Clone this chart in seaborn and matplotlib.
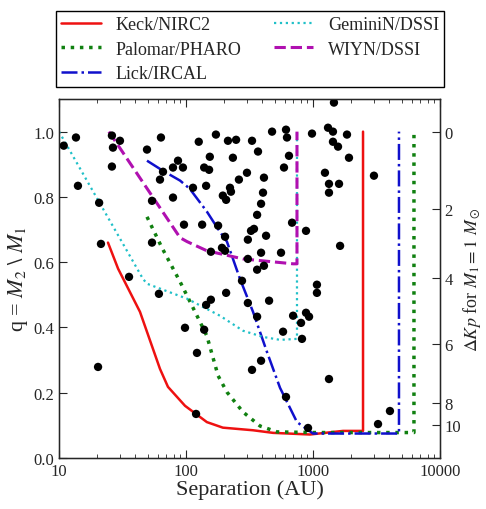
import numpy as np
import pandas as pd
import seaborn as sns
import matplotlib
matplotlib.use('Agg')
import matplotlib.pyplot as plt
from matplotlib.ticker import FixedLocator, FuncFormatter

# 数据
keck_sep = [24.3, 29.2, 43.4, 62.4, 72.1, 98.2, 146, 195, 337, 485, 947, 1722, 2477, 2477]
keck_q = [0.66, 0.58, 0.448, 0.273, 0.218, 0.16, 0.11, 0.093, 0.085, 0.077, 0.072, 0.083, 0.083, 1.0]

palomar_sep = [49.3, 64.7, 89.8, 122, 146, 179, 210, 281, 383, 521, 1000, 6237, 6237]
palomar_q = [0.739, 0.644, 0.54, 0.436, 0.374, 0.252, 0.202, 0.141, 0.098, 0.08, 0.078, 0.078, 0.99]

lick_sep = [49.3, 65.9, 89.8, 107, 146, 185, 210, 266, 337, 434, 550, 748, 1000, 4753, 4753]
lick_q = [0.911, 0.88, 0.85, 0.825, 0.755, 0.693, 0.663, 0.549, 0.448, 0.325, 0.215, 0.110, 0.075, 0.075, 1.0]

gemini_sep = [10, 45.8, 49.3, 102, 185, 281, 404, 550, 748, 748]
gemini_q = [1.0, 0.549, 0.534, 0.488, 0.436, 0.39, 0.371, 0.362, 0.365, 1.0]

wiyn_sep = [24.7, 89.8, 102, 146, 185, 281, 697, 748, 748]
wiyn_q = [1.0, 0.675, 0.663, 0.635, 0.626, 0.61, 0.595, 0.595, 1.0]

binary_sep = [10.9, 13.6, 14.1, 20.7, 21.4, 26.1, 30.2, 26.6, 26.1, 35.6,
              49.3, 63.5, 54, 54, 62.4, 65.9, 79, 86.5, 79, 94.6,
              96.4, 113.5, 126, 134, 144, 154, 139, 152, 172, 179,
              157, 214, 248, 331, 234, 369, 476, 613, 624, 647,
              591, 302, 261, 411, 222, 226, 195, 207, 404, 390,
              363, 684, 881, 203, 325, 343, 307, 427, 192, 203,
              390, 560, 307, 363, 411, 982, 1313, 1436, 1462, 1852,
              1436, 1574, 1920, 1242, 1336, 1603, 1336, 3020, 1634, 61.2,
              144, 157, 98.2, 139, 122, 20.3, 120, 276, 207, 307,
              451, 363, 697, 881, 931, 805, 581, 819, 1074, 1074,
              390, 331, 1336, 613, 914, 3251, 4036]
binary_q = [0.957, 0.982, 0.834, 0.782, 0.656, 0.988, 0.972, 0.951, 0.893, 0.555,
            0.945, 0.982, 0.788, 0.66, 0.853, 0.877, 0.798, 0.911, 0.89, 0.89,
            0.715, 0.828, 0.969, 0.715, 0.834, 0.923, 0.89, 0.883, 0.991, 0.712,
            0.632, 0.972, 0.975, 0.972, 0.92, 0.939, 1.0, 1.006, 0.982, 0.926,
            0.89, 0.874, 0.853, 0.859, 0.828, 0.816, 0.804, 0.791, 0.813, 0.779,
            0.745, 0.721, 0.696, 0.678, 0.696, 0.702, 0.669, 0.681, 0.644, 0.635,
            0.629, 0.629, 0.61, 0.577, 0.589, 0.994, 1.012, 1.0, 1.089, 0.991,
            0.969, 0.954, 0.92, 0.874, 0.84, 0.84, 0.813, 0.865, 0.65, 0.503,
            0.469, 0.485, 0.399, 0.393, 0.322, 0.279, 0.135, 0.543, 0.506, 0.475,
            0.482, 0.433, 0.436, 0.445, 0.433, 0.414, 0.387, 0.365, 0.531, 0.506,
            0.298, 0.27, 0.242, 0.187, 0.092, 0.104, 0.144]

dkp_labels = [0, 2, 4, 6, 8, 10]
dkp_q = [1.0, 0.764, 0.552, 0.348, 0.17, 0.101]

# 样式
sns.set_style('ticks')
plt.rcParams['font.family'] = ['Liberation Serif', 'DejaVu Serif']
plt.rcParams['mathtext.fontset'] = 'stix'

fig = plt.figure(figsize=(4.86, 5.10), dpi=100)
ax = fig.add_axes([59 / 486, 51 / 510, 381 / 486, 359 / 510])

curves = [
    ('Keck/NIRC2', keck_sep, keck_q, '#ee1111', '-', 1.8),
    ('Palomar/PHARO', palomar_sep, palomar_q, '#108010', ':', 2.5),
    ('Lick/IRCAL', lick_sep, lick_q, '#1010cc', '-.', 1.8),
    ('GeminiN/DSSI', gemini_sep, gemini_q, '#20c0c8', ':', 1.6),
    ('WIYN/DSSI', wiyn_sep, wiyn_q, '#b010b0', '--', 2.2),
]
for name, xs, ys, c, ls, lw in curves:
    sns.lineplot(x=xs, y=ys, estimator=None, sort=False, ax=ax,
                 color=c, linestyle=ls, linewidth=lw, label=name)

sns.scatterplot(x=binary_sep, y=binary_q, ax=ax, color='black', s=36,
                edgecolor='none', zorder=5)

ax.set_xscale('log')
ax.set_xlim(10, 10000)
ax.set_ylim(0, 1.1)
ax.xaxis.set_major_formatter(FuncFormatter(lambda v, p: '%d' % v))
ax.set_yticks([0, 0.2, 0.4, 0.6, 0.8, 1.0])
ax.yaxis.set_major_formatter(FuncFormatter(lambda v, p: '%.1f' % v))
ax.tick_params(which='both', direction='in', top=True, right=False, labelsize=12)
ax.tick_params(which='major', length=6)
ax.tick_params(which='minor', length=3)
ax.set_xlabel('Separation (AU)', fontsize=16, labelpad=0)
ax.set_ylabel(r'q = $M_2\ \backslash\ M_1$', fontsize=16, labelpad=2)
for s in ax.spines.values():
    s.set_linewidth(1.0)
    s.set_color('black')

ax2 = ax.twinx()
ax2.set_ylim(0, 1.1)
ax2.yaxis.set_major_locator(FixedLocator(dkp_q))
ax2.set_yticklabels([str(v) for v in dkp_labels])
ax2.tick_params(direction='in', length=6, labelsize=12, pad=3)
ax2.set_ylabel(r'$\Delta Kp$ for $M_1 = 1\ M_\odot$', fontsize=13, labelpad=0)

h, l = ax.get_legend_handles_labels()
ax.get_legend().remove()
fig.legend(h, l, loc='upper center', bbox_to_anchor=(250 / 486, 1 - 3 / 510),
           ncol=2, fontsize=13, frameon=True, fancybox=False, edgecolor='black',
           framealpha=1, labelspacing=0.4, columnspacing=1.8, handlelength=2.2,
           borderpad=0.3)

plt.savefig('out.png', dpi=100)
